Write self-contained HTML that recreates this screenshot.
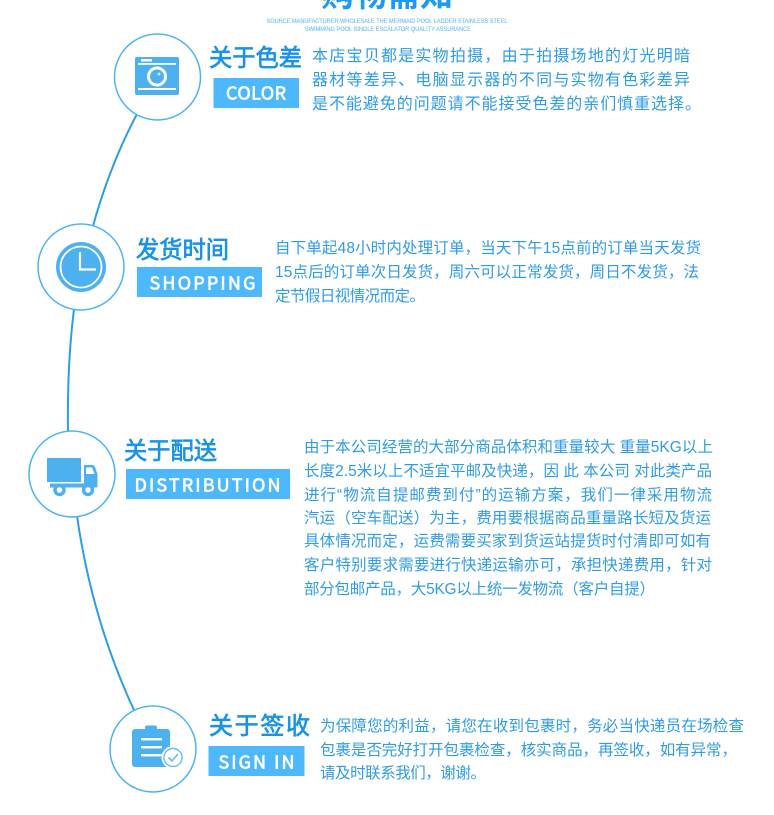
<!DOCTYPE html>
<html lang="zh">
<head>
<meta charset="utf-8">
<title>购物需知</title>
<style>
html,body{margin:0;padding:0;background:#fff;width:774px;height:815px;overflow:hidden}
svg{display:block}
text{font-family:"Liberation Sans","Noto Sans CJK SC",sans-serif}
.t{font-size:15.500px;fill:#2f9ce6}
.t1{font-size:16px;fill:#2f9ce6}
.h{font-size:24px;fill:#1a93e4;stroke:#1a93e4;stroke-width:.7px}
.l{font-size:18px;fill:#fff;stroke:#fff;stroke-width:.7px;font-family:"Noto Sans CJK SC",sans-serif;text-anchor:middle}
.s{font-size:6px;fill:#6cc0f5;stroke:#6cc0f5;stroke-width:.12px;text-anchor:middle}
</style>
</head>
<body>
<svg width="774" height="815" viewBox="0 0 774 815" xmlns="http://www.w3.org/2000/svg">
<rect width="774" height="815" fill="#fff"/>

<!-- title -->
<text x="387" y="6" font-size="32" font-weight="700" fill="#1b9bf0" text-anchor="middle" textLength="132" lengthAdjust="spacingAndGlyphs">购物需知</text>
<text class="s" x="387" y="23" textLength="241" lengthAdjust="spacingAndGlyphs">SOURCE MANUFACTURER WHOLESALE THE MERMAID POOL LADDER STAINLESS STEEL</text>
<text class="s" x="388" y="31" textLength="166" lengthAdjust="spacingAndGlyphs">SWIMMING POOL SINGLE ESCALATOR QUALITY ASSURANCE</text>

<!-- connector -->
<g fill="none" stroke="#2a9fe6" stroke-width="2">
<path d="M137 114 Q110 165 93 226"/>
<path d="M74 309 Q67 365 68 431"/>
<path d="M77 516 Q92 620 134 710"/>
</g>

<!-- circles -->
<g fill="#fff" stroke="#4cb4f0" stroke-width="1.500">
<circle cx="157.500" cy="77" r="43"/>
<circle cx="81" cy="267" r="43"/>
<circle cx="72" cy="474" r="43"/>
<circle cx="153" cy="749" r="43"/>
</g>

<!-- camera icon -->
<g>
<rect x="135" y="57" width="44" height="38" rx="2" fill="#4cb1ee"/>
<rect x="141" y="59" width="11" height="2.500" fill="#fff"/>
<rect x="138" y="63" width="38" height="1.800" fill="#fff"/>
<rect x="138" y="88" width="38" height="2" fill="#fff"/>
<circle cx="157" cy="76.500" r="8.500" fill="#4cb1ee" stroke="#fff" stroke-width="3"/>
<circle cx="159" cy="74" r="1.500" fill="#fff" opacity=".7"/>
</g>

<!-- clock icon -->
<g>
<circle cx="81" cy="267" r="25" fill="#4cb1ee"/>
<circle cx="81" cy="267" r="20.500" fill="#4cb1ee" stroke="#fff" stroke-width="1.800"/>
<path d="M80 252 V269.500 H96" fill="none" stroke="#fff" stroke-width="2.200"/>
</g>

<!-- truck icon -->
<g>
<rect x="47" y="458" width="34" height="24" fill="#4cb1ee"/>
<path d="M84 465 H92 Q94 465 95 467 L97.500 474 V487 H84 Z" fill="#4cb1ee"/>
<path d="M86 467.500 H92 L94.500 474 H86 Z" fill="#fff"/>
<rect x="50" y="483.500" width="47" height="4" fill="#4cb1ee"/>
<circle cx="59.500" cy="490" r="4.500" fill="#fff" stroke="#4cb1ee" stroke-width="3.500"/>
<circle cx="88" cy="490" r="4.500" fill="#fff" stroke="#4cb1ee" stroke-width="3.500"/>
</g>

<!-- clipboard icon -->
<g>
<rect x="132" y="729" width="38" height="38" rx="3" fill="#4cb1ee"/>
<rect x="145" y="725.500" width="12" height="4.500" rx="2" fill="#4cb1ee"/>
<rect x="141" y="738" width="21" height="2.400" fill="#fff"/>
<rect x="141" y="746" width="21" height="2.400" fill="#fff"/>
<rect x="141" y="754" width="21" height="2.400" fill="#fff"/>
<circle cx="173" cy="757.500" r="11.500" fill="#fff"/>
<circle cx="173" cy="757.500" r="9" fill="#fff" stroke="#6cbcec" stroke-width="1.400"/>
<path d="M168.500 757.500 L172 761 L178 754" fill="none" stroke="#6cbcec" stroke-width="1.600"/>
</g>

<!-- headings -->
<text class="h" x="209" y="66" textLength="93" lengthAdjust="spacingAndGlyphs">关于色差</text>
<text class="h" x="136" y="258" textLength="93" lengthAdjust="spacingAndGlyphs">发货时间</text>
<text class="h" x="124" y="459" textLength="93" lengthAdjust="spacingAndGlyphs">关于配送</text>
<text class="h" x="209" y="734" textLength="101">关于签收</text>

<!-- label boxes -->
<rect x="213.500" y="78" width="85.500" height="30" fill="#4db8fb"/>
<rect x="137" y="267" width="125" height="30" fill="#4db8fb"/>
<rect x="126" y="469" width="164" height="30" fill="#4db8fb"/>
<rect x="208.500" y="746" width="96" height="30" fill="#4db8fb"/>
<text class="l" x="256" y="99.500" textLength="60">COLOR</text>
<text class="l" x="202.500" y="289.500" textLength="106">SHOPPING</text>
<text class="l" x="207.500" y="491.500" textLength="146">DISTRIBUTION</text>
<text class="l" x="256.500" y="768.500" textLength="76">SIGN IN</text>

<!-- paragraphs -->
<text class="t1" x="312" y="61" textLength="378">本店宝贝都是实物拍摄，由于拍摄场地的灯光明暗</text>
<text class="t1" x="312" y="85" textLength="378">器材等差异、电脑显示器的不同与实物有色彩差异</text>
<text class="t1" x="312" y="109" textLength="389">是不能避免的问题请不能接受色差的亲们慎重选择。</text>

<text class="t" x="275" y="253" textLength="426">自下单起48小时内处理订单，当天下午15点前的订单当天发货</text>
<text class="t" x="275" y="277" textLength="424">15点后的订单次日发货，周六可以正常发货，周日不发货，法</text>
<text class="t" x="275" y="301" textLength="150">定节假日视情况而定。</text>

<text class="t" x="304" y="452" textLength="409">由于本公司经营的大部分商品体积和重量较大 重量5KG以上</text>
<text class="t" x="304" y="476" textLength="408">长度2.5米以上不适宜平邮及快递，因 此 本公司 对此类产品</text>
<text class="t" x="304" y="500" textLength="408">进行“物流自提邮费到付”的运输方案，我们一律采用物流</text>
<text class="t" x="304" y="523" textLength="407">汽运（空车配送）为主，费用要根据商品重量路长短及货运</text>
<text class="t" x="304" y="546" textLength="407">具体情况而定，运费需要买家到货运站提货时付清即可如有</text>
<text class="t" x="304" y="570" textLength="408">客户特别要求需要进行快递运输亦可，承担快递费用，针对</text>
<text class="t" x="304" y="594" textLength="351">部分包邮产品，大5KG以上统一发物流（客户自提）</text>

<text class="t" x="320" y="731" textLength="424">为保障您的利益，请您在收到包裹时，务必当快递员在场检查</text>
<text class="t" x="320" y="755" textLength="417">包裹是否完好打开包裹检查，核实商品，再签收，如有异常，</text>
<text class="t" x="320" y="778" textLength="166">请及时联系我们，谢谢。</text>
</svg>
</body>
</html>
